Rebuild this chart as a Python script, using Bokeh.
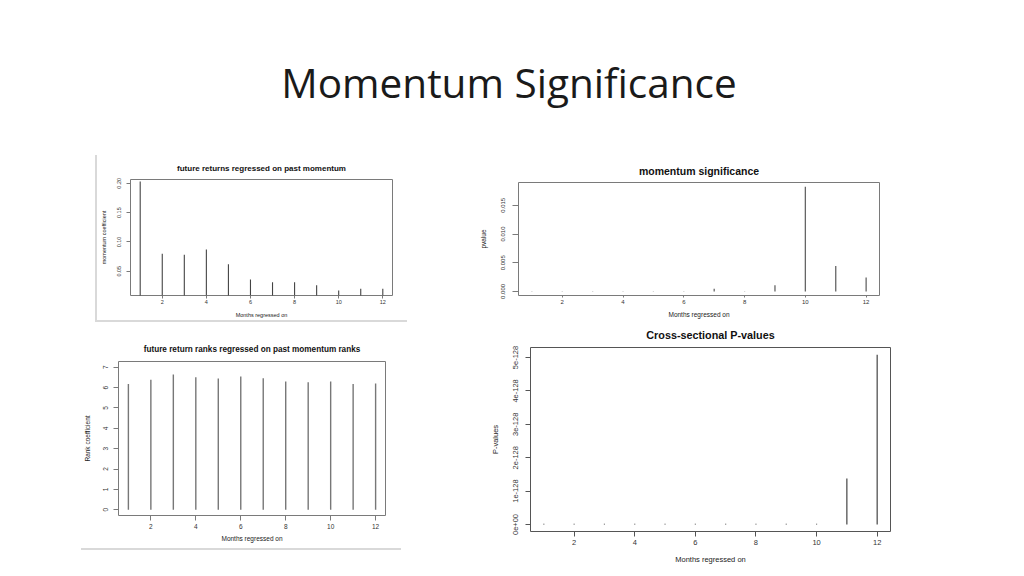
from bokeh.plotting import figure
from bokeh.models import Range1d, FixedTicker, Div, Spacer, ColumnDataSource
from bokeh.layouts import row, column
from bokeh.embed import file_html
from bokeh.resources import INLINE

# ---------------- data ----------------
months = [1, 2, 3, 4, 5, 6, 7, 8, 9, 10, 11, 12]
month_ticks = [2, 4, 6, 8, 10, 12]

momentum_coef = [0.203, 0.080, 0.078, 0.087, 0.062, 0.036, 0.031, 0.031, 0.026, 0.017, 0.020, 0.020]
momentum_coef_ticks = [0.05, 0.10, 0.15, 0.20]
momentum_coef_labels = ["0.05", "0.10", "0.15", "0.20"]

momentum_pvalue = [0.00003, 0.00003, 0.00003, 0.00003, 0.00003, 0.00005, 0.00045, 0.00003, 0.00107, 0.01826, 0.00444, 0.00242]
momentum_pvalue_ticks = [0.0, 0.005, 0.010, 0.015]
momentum_pvalue_labels = ["0.000", "0.005", "0.010", "0.015"]

rank_coef = [6.18, 6.39, 6.64, 6.51, 6.44, 6.54, 6.46, 6.30, 6.26, 6.30, 6.17, 6.20]
rank_coef_ticks = [0, 1, 2, 3, 4, 5, 6, 7]
rank_coef_labels = ["0", "1", "2", "3", "4", "5", "6", "7"]

# cross-sectional p-values, in units of 1e-128
cross_pvalue_e128 = [0.02, 0.02, 0.02, 0.02, 0.02, 0.02, 0.02, 0.02, 0.02, 0.02, 1.38, 5.08]
cross_pvalue_ticks = [0, 1, 2, 3, 4, 5]
cross_pvalue_labels = ["0e+00", "1e-128", "2e-128", "3e-128", "4e-128", "5e-128"]

FONT = "Liberation Sans"


def panel(title, ylabel, xvals, yvals, yticks, ylabels, yrange, w, h, mb, st):
    p = figure(width=w, height=h, output_backend="svg", toolbar_location=None,
               x_range=Range1d(0.56, 12.44), y_range=Range1d(*yrange),
               min_border_left=mb[0], min_border_right=mb[1],
               min_border_top=mb[2], min_border_bottom=mb[3])
    p.title.text = title
    p.title.text_font = FONT
    p.title.text_font_size = st["tfs"]
    p.title.text_font_style = "bold"
    p.title.text_color = "#111111"
    p.title.align = "center"
    p.title.standoff = st["tstand"]
    p.background_fill_color = "white"
    p.border_fill_color = "white"
    p.outline_line_color = st["frame"]
    p.outline_line_width = 1
    p.grid.visible = False
    src = ColumnDataSource(dict(x=xvals, y=yvals, y0=[0] * len(xvals)))
    p.segment(x0="x", y0="y0", x1="x", y1="y", source=src,
              line_color=st["bar"], line_width=st["bw"])
    for ax, k in ((p.xaxis[0], "x"), (p.yaxis[0], "y")):
        ax.axis_line_color = None
        ax.major_tick_line_color = st["frame"]
        ax.major_tick_in = 0
        ax.major_tick_out = st[k + "tick"]
        ax.minor_tick_line_color = None
        ax.major_label_text_font = FONT
        ax.major_label_text_font_size = st["lfs"]
        ax.major_label_text_color = "#333333"
        ax.axis_label_text_font = FONT
        ax.axis_label_text_font_size = st["afs"]
        ax.axis_label_text_font_style = "normal"
        ax.axis_label_text_color = "#222222"
        ax.major_label_standoff = st[k + "lstand"]
        ax.axis_label_standoff = st[k + "astand"]
    p.xaxis.ticker = FixedTicker(ticks=month_ticks)
    p.xaxis.axis_label = "Months regressed on"
    p.yaxis.ticker = FixedTicker(ticks=yticks)
    p.yaxis.major_label_overrides = {t: l for t, l in zip(yticks, ylabels)}
    p.yaxis.major_label_orientation = "vertical"
    p.yaxis.axis_label = ylabel
    return p


fig1 = panel("future returns regressed on past momentum", "momentum coefficient",
             months, momentum_coef, momentum_coef_ticks, momentum_coef_labels,
             (0.0086, 0.2065), 310, 168, (33, 15, 27, 25),
             dict(tfs="8px", tstand=14, lfs="5.5px", afs="5.5px", bar="#444444", bw=1.1, frame="#7a7a7a",
                  xtick=3, xlstand=1, xastand=5, ytick=4, ylstand=5, yastand=8))
fig2 = panel("momentum significance", "pvalue",
             months, momentum_pvalue, momentum_pvalue_ticks, momentum_pvalue_labels,
             (-0.00071, 0.01898), 418, 163, (41, 15, 24, 22),
             dict(tfs="10.5px", tstand=11, lfs="6px", afs="6.5px", bar="#666666", bw=1.3, frame="#7a7a7a",
                  xtick=2, xlstand=2, xastand=4, ytick=6, ylstand=7, yastand=12))
fig3 = panel("future return ranks regressed on past momentum ranks", "Rank coefficient",
             months, rank_coef, rank_coef_ticks, rank_coef_labels,
             (-0.28, 7.28), 324, 213, (32, 19, 25, 33),
             dict(tfs="8.2px", tstand=15, lfs="6.5px", afs="6.5px", bar="#777777", bw=1.4, frame="#7a7a7a",
                  xtick=5, xlstand=3, xastand=3, ytick=5, ylstand=5, yastand=10))
fig4 = panel("Cross-sectional P-values", "P-values",
             months, cross_pvalue_e128, cross_pvalue_ticks, cross_pvalue_labels,
             (-0.21, 5.30), 419, 246, (50, 9, 26, 34),
             dict(tfs="10.8px", tstand=13, lfs="7.5px", afs="7.5px", bar="#444444", bw=1.2, frame="#555555",
                  xtick=5, xlstand=3, xastand=7, ytick=5, ylstand=7, yastand=11))

GRAY = {"background-color": "#d9d9d9"}

title_div = Div(text='<div style="font-family:\'Open Sans\';font-size:40.5px;color:#1a1a1a;'
                     'padding-top:49px;padding-left:8px;text-align:center;width:1000px;">'
                     'Momentum Significance</div>',
                width=1008, height=138)

left_col = column(
    Spacer(height=4),
    row(Spacer(width=16),
        column(row(column(Spacer(width=2, height=3),
                          Spacer(width=2, height=165, styles=GRAY)), fig1),
               Spacer(width=312, height=2, styles=GRAY))),
    Spacer(height=13),
    row(Spacer(width=1), fig3),
    row(Spacer(width=2, height=2), Spacer(width=320, height=2, styles=GRAY)),
)

right_col = column(Spacer(height=9),
                   row(Spacer(width=1), fig2),
                   row(Spacer(width=5), fig4))

layout = column(title_div, row(Spacer(width=79), left_col, Spacer(width=68), right_col))

open("out.html", "w").write(file_html(layout, INLINE))
